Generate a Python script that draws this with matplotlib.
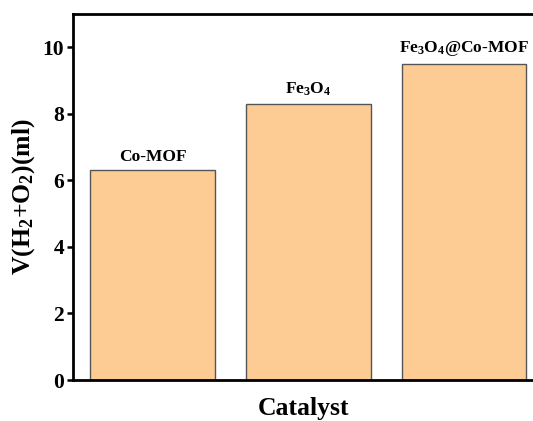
import matplotlib
matplotlib.use("Agg")
import matplotlib.pyplot as plt

categories = ["Co-MOF", "Fe$_3$O$_4$", "Fe$_3$O$_4$@Co-MOF"]
values = [6.3, 8.3, 9.5]
yticks = [0, 2, 4, 6, 8, 10]

plt.rcParams['font.family'] = ['Liberation Serif']
plt.rcParams['font.weight'] = 'bold'
plt.rcParams['mathtext.fontset'] = 'custom'
plt.rcParams['mathtext.rm'] = 'Liberation Serif:bold'
plt.rcParams['mathtext.it'] = 'Liberation Serif:bold'
plt.rcParams['mathtext.bf'] = 'Liberation Serif:bold'
plt.rcParams['mathtext.default'] = 'rm'

fig = plt.figure(figsize=(5.33, 4.21), dpi=100)
ax = fig.add_axes([73/533, 41/421, (533.5-73)/533, (380-14)/421])

x = list(range(len(categories)))
bars = ax.bar(x, values, width=0.8, color='#FDCC94', edgecolor='#555555', linewidth=1.0)
for xi, v, lab in zip(x, values, categories):
    ax.annotate(lab, (xi, v), xytext=(0, 4), textcoords='offset points',
                ha='center', va='bottom', fontsize=12.5, fontweight='bold')

ax.set_xlim(-0.51, 2.445)
ax.set_ylim(0, 11)
ax.set_yticks(yticks)
ax.set_xticks([])
ax.tick_params(axis='y', direction='out', length=4.5, width=1.8, labelsize=15.5, pad=2)
for s in ax.spines.values():
    s.set_linewidth(2)
ax.set_ylabel("V(H$_2$+O$_2$)(ml)", fontsize=18.5, fontweight='bold', labelpad=4)
ax.set_xlabel("Catalyst", fontsize=18.5, fontweight='bold', labelpad=12)
fig.savefig("out.png", dpi=100)
